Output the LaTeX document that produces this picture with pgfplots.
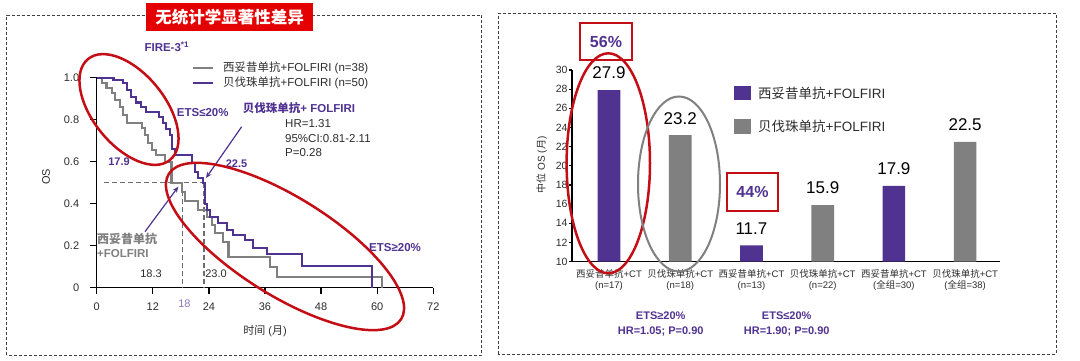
\documentclass[border=0pt]{standalone}
\usepackage{fontspec}
\setmainfont{Liberation Sans}
\newfontfamily\zh{Noto Sans CJK SC}
\usepackage{pgfplots}
\pgfplotsset{compat=1.18}
\usetikzlibrary{arrows.meta}
\newcommand{\fs}[1]{\fontsize{#1}{#1}\selectfont}
\definecolor{pur}{RGB}{80,50,145}
\definecolor{gry}{RGB}{128,128,128}
\definecolor{ered}{RGB}{196,14,22}
\definecolor{tred}{RGB}{228,0,0}
\definecolor{txt}{RGB}{45,45,45}
\begin{document}
\begin{tikzpicture}[x=1pt,y=1pt]
\path[use as bounding box] (0,0) rectangle (1080,361);
\fill[white] (0,0) rectangle (1080,361);
% frames
\draw[dash pattern=on 3pt off 2pt, line width=0.8pt, black!75] (6.7,6) rectangle (481.7,346);
\draw[dash pattern=on 3pt off 2pt, line width=0.8pt, black!75] (498.3,7) rectangle (1056,347.7);
% title
\fill[tred] (146,330) rectangle (313,358);
\node[text=white, font=\zh\bfseries\fs{16.5}] at (229.5,344) {无统计学显著性差异};

% ================= LEFT: KM curves =================
\begin{axis}[
  at={(96.7pt,73.3pt)}, anchor=south west,
  scale only axis, width=336.6pt, height=210pt,
  xmin=0, xmax=72, ymin=0, ymax=1,
  axis lines=left, axis line style={-, line width=1.3pt, black},
  xtick={0,12,24,36,48,60,72},
  ytick={0,0.2,0.4,0.6,0.8,1}, yticklabels={0,0.2,0.4,0.6,0.8,1.0},
  tick align=outside, major tick length=6.5pt,
  tick style={line width=1.3pt, black},
  ticklabel style={font=\fs{11}, text=txt},
  xticklabel style={yshift=-5.5pt},
  yticklabel style={xshift=-7.5pt},
  /pgf/number format/assume math mode=true,
  clip=false,
]
\draw[gry!85!black, line width=1.5pt, dash pattern=on 5pt off 3pt] (axis cs:1.5,0.5) -- (axis cs:23,0.5);
\draw[gry!85!black, line width=1.5pt, dash pattern=on 5pt off 3pt] (axis cs:18.3,0.5) -- (axis cs:18.3,0);
\draw[gry!85!black, line width=1.5pt, dash pattern=on 5pt off 3pt] (axis cs:23,0.5) -- (axis cs:23,0);
\addplot[const plot, color=gry, line width=2.1pt] coordinates {
 (0,1) (1.1,0.973) (2.1,0.949) (3.2,0.926) (3.9,0.894) (5.0,0.862) (5.7,0.822)
 (6.4,0.783) (9.6,0.759) (10.3,0.727) (11.0,0.688) (11.8,0.655) (12.6,0.632)
 (14.6,0.6) (16.0,0.5) (18.3,0.457) (18.9,0.413) (21.7,0.37) (23.6,0.335)
 (24.6,0.298) (25.3,0.259) (27.1,0.219) (28.2,0.145) (37.1,0.1) (38.5,0.05) (61.0,0)};
\addplot[const plot, color=pur, line width=2.1pt] coordinates {
 (0,1) (3.6,0.989) (5.7,0.973) (6.4,0.941) (7.3,0.906) (8.4,0.882) (9.5,0.862)
 (10.5,0.838) (13.3,0.814) (14.2,0.783) (14.9,0.755) (15.6,0.727) (16.2,0.66)
 (16.8,0.632) (20.3,0.592) (21.0,0.552) (21.7,0.521) (22.8,0.5) (23.2,0.4)
 (23.6,0.37) (24.2,0.338) (26.0,0.307) (27.8,0.275) (29.2,0.251) (31.7,0.227)
 (33.5,0.188) (36.4,0.16) (43.9,0.103) (58.8,0)};
\end{axis}

% left annotations
\node[anchor=west, font=\bfseries\fs{11.5}, text=pur] at (141,314) {FIRE-3\textsuperscript{*1}};
\draw[gry, line width=2pt] (193.3,293.3) -- (213.3,293.3);
\draw[pur, line width=2pt] (193.3,278.3) -- (213.3,278.3);
\node[anchor=west, font=\fs{11.5}, text=txt, inner sep=0pt] at (223,293.3) {{\zh 西妥昔单抗}+FOLFIRI (n=38)};
\node[anchor=west, font=\fs{11.5}, text=txt, inner sep=0pt] at (223,278.3) {{\zh 贝伐珠单抗}+FOLFIRI (n=50)};
\node[anchor=west, font=\bfseries\fs{11.5}, text=pur, inner sep=0pt] at (176.7,248) {ETS≤20\%};
\node[anchor=west, font=\bfseries\fs{11.5}, text=pur, inner sep=0pt] at (242.7,253) {{\zh\bfseries 贝伐珠单抗}+ FOLFIRI};
\node[anchor=west, font=\fs{11.5}, text=txt, inner sep=0pt] at (285,237) {HR=1.31};
\node[anchor=west, font=\fs{11.5}, text=txt, inner sep=0pt] at (285,222.5) {95\%CI:0.81-2.11};
\node[anchor=west, font=\fs{11.5}, text=txt, inner sep=0pt] at (285,208) {P=0.28};
\node[font=\bfseries\fs{11}, text=pur] at (119,199) {17.9};
\node[font=\bfseries\fs{11}, text=pur] at (236.5,197) {22.5};
\node[anchor=west, font=\bfseries\fs{12}, text=gry, inner sep=0pt] at (97,121.7) {{\zh\bfseries 西妥昔单抗}};
\node[anchor=west, font=\bfseries\fs{11.5}, text=gry, inner sep=0pt] at (97,107.7) {+FOLFIRI};
\node[font=\fs{11}, text=txt] at (151,87.7) {18.3};
\node[font=\fs{11}, text=txt] at (216,87.7) {23.0};
\node[font=\fs{11}, text=pur!65] at (184.5,57.7) {18};
\node[font=\fs{11}, text=txt] at (265,30) {{\zh 时间} ({\zh 月})};
\node[font=\fs{11}, text=txt, rotate=90] at (46,184) {OS};
\node[anchor=west, font=\bfseries\fs{11.5}, text=pur, inner sep=0pt] at (369,113.3) {ETS≥20\%};
\draw[pur, line width=1.2pt, -{Stealth[length=6pt,width=5pt]}] (241.7,234.3) -- (206,183);
\draw[pur, line width=1.2pt, -{Stealth[length=6pt,width=5pt]}] (145,129.3) -- (178.3,174.3);
\draw[ered, line width=2.5pt, rotate around={-51:(129,251.5)}] (129,251.5) ellipse (65 and 36);
\draw[ered, line width=2.5pt, rotate around={-32:(285,114.5)}] (285,114.5) ellipse (137 and 49);

% ================= RIGHT: bars =================
\begin{axis}[
  at={(572pt,99.3pt)}, anchor=south west,
  scale only axis, width=428pt, height=191.7pt,
  xmin=-0.52, xmax=5.49, ymin=10, ymax=30,
  axis lines=left, axis line style={-, line width=1.4pt, black},
  xtick={0,1,2,3,4,5},
  xticklabels={{{\zh 西妥昔单抗}+CT\\(n=17)},{{\zh 贝伐珠单抗}+CT\\(n=18)},{{\zh 西妥昔单抗}+CT\\(n=13)},{{\zh 贝伐珠单抗}+CT\\(n=22)},{{\zh 西妥昔单抗}+CT\\({\zh 全组}=30)},{{\zh 贝伐珠单抗}+CT\\({\zh 全组}=38)}},
  xtick style={draw=none},
  xticklabel style={align=center, font=\fontsize{9.5}{11}\selectfont, text=txt, yshift=-1.5pt},
  ytick={10,12,...,30},
  tick align=outside, major tick length=3pt,
  ytick style={line width=1.2pt, black},
  yticklabel style={font=\fs{10.5}, text=txt, xshift=2pt},
  /pgf/number format/assume math mode=true,
]
\addplot[ybar, bar width=22.7pt, fill=pur, draw=none] coordinates {(0,27.9) (2,11.7) (4,17.9)};
\addplot[ybar, bar width=22.7pt, fill=gry, draw=none] coordinates {(1,23.2) (3,15.9) (5,22.5)};
\coordinate (b0) at (axis cs:0,27.9);
\coordinate (b1) at (axis cs:1,23.2);
\coordinate (b2) at (axis cs:2,11.7);
\coordinate (b3) at (axis cs:3,15.9);
\coordinate (b4) at (axis cs:4,17.9);
\coordinate (b5) at (axis cs:5,22.5);
\end{axis}
\foreach \c/\v in {b0/27.9,b1/23.2,b2/11.7,b3/15.9,b4/17.9,b5/22.5}
  \node[font=\fs{17}, text=black] at ([yshift=17pt]\c) {\v};

% right annotations
\fill[pur] (734.3,261) rectangle (750.7,275);
\fill[gry] (734.3,227) rectangle (750.7,241.7);
\node[anchor=west, font=\fs{13.5}, text=txt, inner sep=0pt] at (758,268) {{\zh 西妥昔单抗}+FOLFIRI};
\node[anchor=west, font=\fs{13.5}, text=txt, inner sep=0pt] at (758,234.3) {{\zh 贝伐珠单抗}+FOLFIRI};
\node[rotate=90, font=\fs{10}, text=txt] at (541.7,196) {{\zh 中位} OS ({\zh 月})};
\draw[ered, line width=2pt] (580,301) rectangle (632,337.7);
\node[font=\bfseries\fs{16}, text=pur] at (606,319.5) {56\%};
\draw[ered, line width=2pt] (726.7,150) rectangle (778.3,187.7);
\node[font=\bfseries\fs{16}, text=pur] at (752.5,168.8) {44\%};
\draw[ered, line width=2.5pt] (608.3,197.7) ellipse (41.7 and 110);
\draw[gry, line width=2pt] (679,177) ellipse (41 and 87.5);
\node[font=\bfseries\fs{11}, text=pur] at (660.7,45) {ETS≥20\%};
\node[font=\bfseries\fs{11}, text=pur] at (660.7,29.3) {HR=1.05; P=0.90};
\node[font=\bfseries\fs{11}, text=pur] at (786.7,45) {ETS≤20\%};
\node[font=\bfseries\fs{11}, text=pur] at (786.7,29.3) {HR=1.90; P=0.90};
\end{tikzpicture}
\end{document}
